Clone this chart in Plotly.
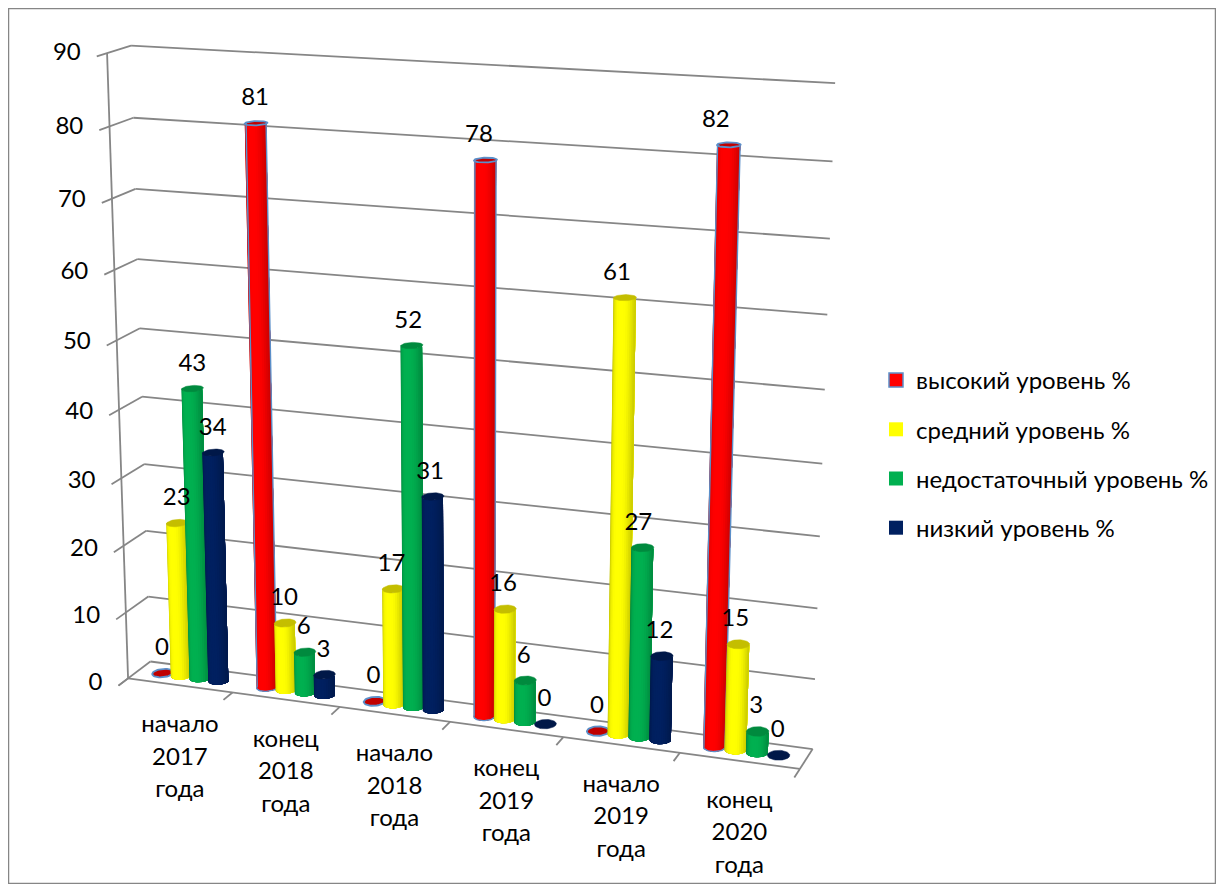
import numpy as np
import plotly.graph_objects as go

categories = [["начало", "2017", "года"], ["конец", "2018", "года"], ["начало", "2018", "года"],
              ["конец", "2019", "года"], ["начало", "2019", "года"], ["конец", "2020", "года"]]
series_names = ["высокий уровень %", "средний уровень %", "недостаточный уровень %", "низкий уровень %"]
high = [0, 81, 0, 78, 0, 82]
medium = [23, 10, 17, 16, 61, 15]
insufficient = [43, 6, 52, 6, 27, 3]
low = [34, 3, 31, 0, 12, 0]
series_values = [high, medium, insufficient, low]
value_ticks = list(range(0, 100, 10))

FONT = "Lato, 'Open Sans', sans-serif"
FS = 24
body_rgb = [(255, 0, 0), (255, 255, 0), (0, 176, 80), (0, 32, 96)]
cap_colors = ["#C00000", "#C4BE00", "#008A3E", "#001848"]
GRID = "#868686"
OUTLINE = "#5B8FC9"

# Perspective camera of the box: (category, depth, value) -> page pixel, calibrated on the box edges
cal = [((0, 0, 0), (128, 678)), ((0, 1, 0), (150, 662)), ((6, 0, 0), (800, 768)), ((6, 1, 0), (813, 748)),
       ((0, 0, 90), (107, 53)), ((0, 1, 90), (131, 46)), ((6, 1, 90), (835, 83)),
       ((1, 0, 0), (233, 692)), ((3, 0, 0), (450, 722)), ((5, 0, 0), (679, 755)),
       ((0, 0, 50), (117, 340)), ((6, 1, 50), (825, 390))]
A = []
for (u, v, w), (px, py) in cal:
    X = [u / 6, v, w / 90, 1]
    a, b = px / 1000, py / 1000
    A.append(X + [0, 0, 0, 0] + [-a * c for c in X])
    A.append([0, 0, 0, 0] + X + [-b * c for c in X])
P = np.linalg.svd(np.array(A))[2][-1].reshape(3, 4)


def proj(u, v, w):
    u, v, w = np.broadcast_arrays(np.asarray(u, float), np.asarray(v, float), np.asarray(w, float))
    X = np.stack([u / 6, v, w / 90, np.ones_like(u)])
    q = P @ X.reshape(4, -1)
    return (1000 * q[0] / q[2]).reshape(u.shape), (1000 * q[1] / q[2]).reshape(u.shape)


fig = go.Figure()


def add_lines(segments, width=1.8):
    xs, ys = [], []
    for a, b in segments:
        x, y = proj([a[0], b[0]], [a[1], b[1]], [a[2], b[2]])
        xs += [x[0], x[1], None]
        ys += [y[0], y[1], None]
    fig.add_trace(go.Scatter(x=xs, y=ys, mode="lines", line=dict(color=GRID, width=width),
                             hoverinfo="skip", showlegend=False))


STUB = -0.42
seg = []
for w in value_ticks:
    seg.append(((0, 1, w), (6, 1, w)))
    seg.append(((0, STUB, w), (0, 1, w)))
seg.append(((0, 0, 0), (0, 0, 90)))
seg.append(((0, 0, 0), (6, 0, 0)))
seg.append(((6, 0, 0), (6, 1, 0)))
for i in range(7):
    seg.append(((i, STUB, 0), (i, 0, 0)))
add_lines(seg)

# Cylinders: each shade band runs to the right edge and the next band paints over it, so no seams show
STEP, RU, RV, VC = 0.18, 0.09, 0.24, 0.5
N = 16
edges = np.linspace(np.pi, 2 * np.pi, N + 1)  # front half, left to right
tlist = np.linspace(0, 2 * np.pi, 49)

for s, vals in enumerate(series_values):
    for k in range(N):
        px_, py_ = [], []
        for c, val in enumerate(vals):
            if val <= 0:
                continue
            uc = c + 0.5 + (s - 1.5) * STEP
            t = np.linspace(edges[k], 2 * np.pi, 25)
            uu = uc + RU * np.cos(t)
            vv = VC + RV * np.sin(t)
            xb, yb = proj(uu, vv, np.zeros_like(t))
            xt, yt = proj(uu[::-1], vv[::-1], np.full_like(t, val))
            px_ += list(xb) + list(xt) + [float(xb[0]), None]
            py_ += list(yb) + list(yt) + [float(yb[0]), None]
        mid = 0.5 * (edges[k] + edges[k + 1])
        f = abs(np.cos(mid)) ** 3
        shade = 1 - (0.32 if np.cos(mid) < 0 else 0.2) * f
        r, g, b = [int(round(ch * shade)) for ch in body_rgb[s]]
        col = f"rgb({r},{g},{b})"
        fig.add_trace(go.Scatter(x=px_, y=py_, mode="lines", fill="toself", fillcolor=col,
                                 line=dict(color=col, width=0), hoverinfo="skip", showlegend=False))
    cx, cy = [], []
    for c, val in enumerate(vals):
        uc = c + 0.5 + (s - 1.5) * STEP
        x, y = proj(uc + RU * np.cos(tlist), VC + RV * np.sin(tlist), np.full_like(tlist, val))
        cx += list(x) + [None]
        cy += list(y) + [None]
    fig.add_trace(go.Scatter(x=cx, y=cy, mode="lines", fill="toself", fillcolor=cap_colors[s],
                             line=dict(color=OUTLINE if s == 0 else cap_colors[s], width=1.8 if s == 0 else 0.5),
                             hoverinfo="skip", showlegend=False))
    if s == 0:  # thin outline down the sides of the high-level bars
        ox, oy = [], []
        for c, val in enumerate(vals):
            if val > 0:
                uc = c + 0.5 + (s - 1.5) * STEP
                tb = np.linspace(np.pi, 2 * np.pi, 25)
                x0, y0 = proj(uc - RU, VC, val)
                xb, yb = proj(uc + RU * np.cos(tb), VC + RV * np.sin(tb), np.zeros_like(tb))
                x1, y1 = proj(uc + RU, VC, val)
                ox += [float(x0)] + list(xb) + [float(x1), None]
                oy += [float(y0)] + list(yb) + [float(y1), None]
        fig.add_trace(go.Scatter(x=ox, y=oy, mode="lines", line=dict(color=OUTLINE, width=1.4),
                                 hoverinfo="skip", showlegend=False))


def add_text(xs, ys, texts, pos="middle center", size=FS):
    fig.add_trace(go.Scatter(x=xs, y=ys, text=texts, mode="text", textposition=pos,
                             textfont=dict(family=FONT, size=size, color="black"),
                             hoverinfo="skip", showlegend=False))


# Data labels: the labels do not follow the perspective lean of the bars
lx, ly, lt = [], [], []
for s, vals in enumerate(series_values):
    for c, val in enumerate(vals):
        uc = c + 0.5 + (s - 1.5) * STEP
        x, y = proj(uc, VC, val)
        lx.append(float(x) - 1 - 12 * (float(x) - 256) / 472 * val / 82)
        ly.append(float(y) - 24)
        lt.append(str(val))
add_text(lx, ly, lt)

# Value axis labels
x, y = proj(np.zeros(len(value_ticks)), np.full(len(value_ticks), STUB), value_ticks)
add_text(list(x - 16), list(y - 2), [str(t) for t in value_ticks], "middle left")

# Category labels, three lines each
cx_, cy_, ct = [], [], []
for c, lines in enumerate(categories):
    x, y = proj(c + 0.5, 0, 0)
    for j, line in enumerate(lines):
        cx_.append(float(x))
        cy_.append(float(y) + 41 + 32.5 * j)
        ct.append(line)
add_text(cx_, cy_, ct)

# Legend
legend_cols = ["#FF0000", "#FFFF00", "#00B050", "#002060"]
for s, name in enumerate(series_names):
    fig.add_trace(go.Scatter(x=[None], y=[None], mode="markers", name=name, legendgroup=name,
                             marker=dict(symbol="square", size=14, color=legend_cols[s],
                                         line=dict(color=OUTLINE if s == 0 else legend_cols[s], width=1.5 if s == 0 else 0))))

fig.update_layout(
    width=1208, height=876, margin=dict(l=0, r=0, t=0, b=0),
    paper_bgcolor="white", plot_bgcolor="white", showlegend=True,
    xaxis=dict(range=[8, 1216], visible=False, fixedrange=True),
    yaxis=dict(range=[884, 8], visible=False, fixedrange=True),
    legend=dict(x=(876 - 8) / 1208, y=1 - (358 - 8) / 876, xanchor="left", yanchor="top",
                font=dict(family=FONT, size=FS, color="black"), tracegroupgap=15,
                itemwidth=30, bgcolor="rgba(0,0,0,0)", borderwidth=0),
    shapes=[dict(type="rect", xref="x", yref="y", x0=8.5, x1=1215.5, y0=8.5, y1=883.5,
                 line=dict(color=GRID, width=1.5), layer="below")],
)
fig.write_html("out.html", config=dict(displayModeBar=False))
